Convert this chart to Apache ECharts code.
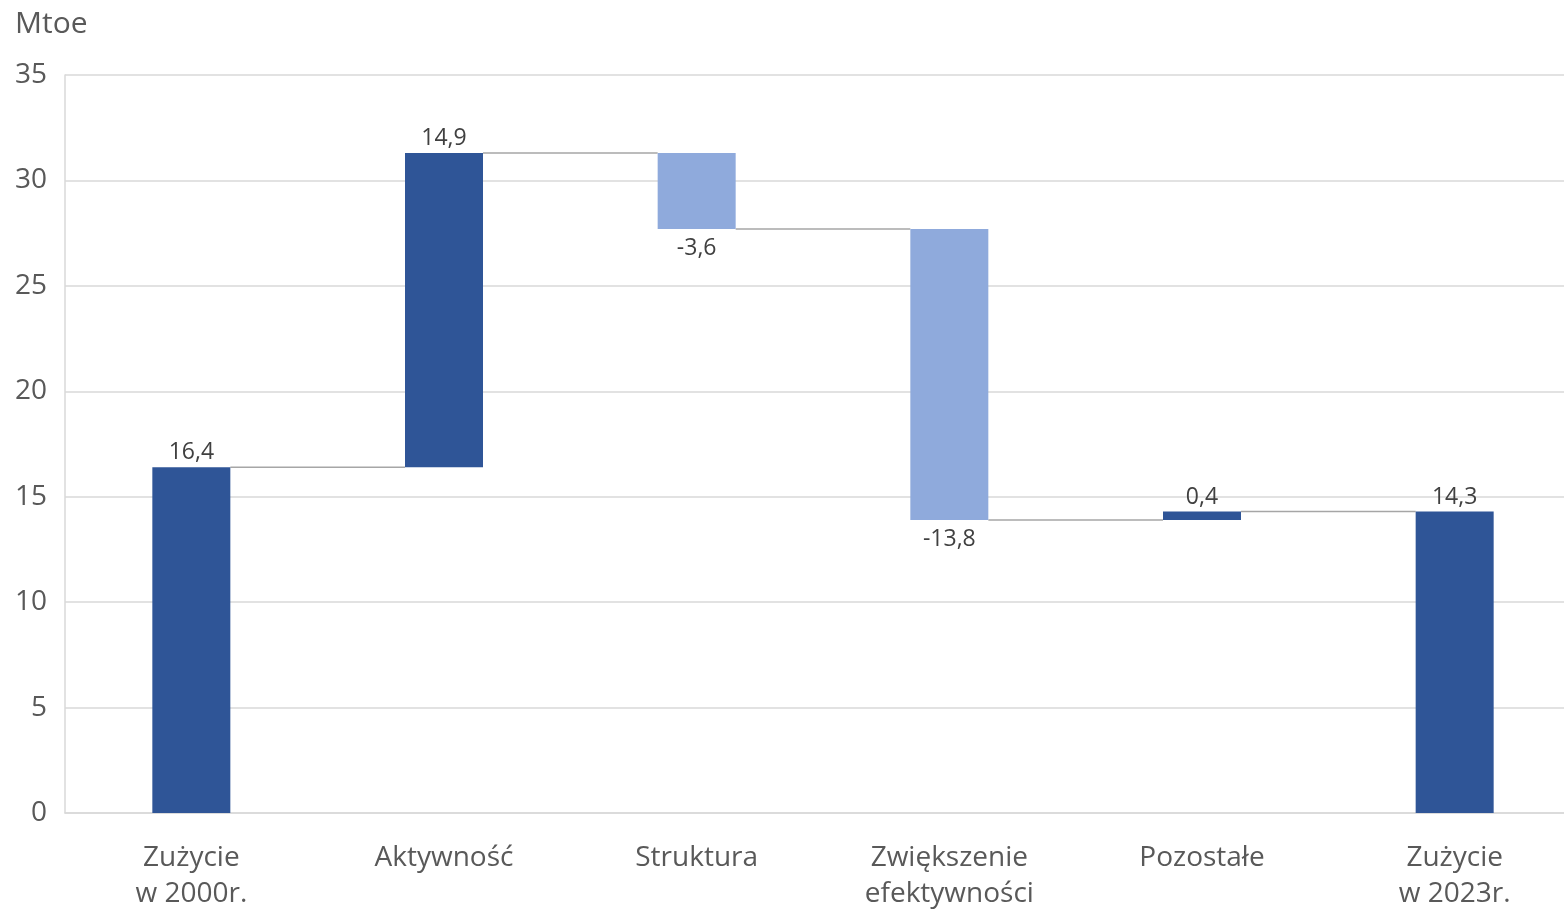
<!DOCTYPE html>
<html>
<head>
<meta charset="utf-8">
<script src="https://cdn.jsdelivr.net/npm/echarts@6/dist/echarts.min.js"></script>
<style>
  html, body { margin: 0; padding: 0; background: #ffffff; }
  #chart { width: 1564px; height: 910px; }
</style>
</head>
<body>
<div id="chart"></div>
<script>
// Decomposition of final energy consumption change, 2000 -> 2023 (Mtoe)
const categories = ['Zużycie\nw 2000r.', 'Aktywność', 'Struktura', 'Zwiększenie\nefektywności', 'Pozostałe', 'Zużycie\nw 2023r.'];
const startValue = 16.4;
const effects = [14.9, -3.6, -13.8, 0.4];
const endValue = 14.3;
const yTicks = [0, 5, 10, 15, 20, 25, 30, 35];

const DARK = '#2F5597';
const LIGHT = '#8FAADC';
const FONT = 'Open Sans';

// floating base, visible height and colour for each bar
const base = [], height = [], signed = [];
let level = startValue;
base.push(0); height.push(startValue); signed.push(startValue);
effects.forEach(v => {
  const lo = v >= 0 ? level : level + v;
  base.push(+lo.toFixed(2));
  height.push(Math.abs(v));
  signed.push(v);
  level += v;
});
base.push(0); height.push(endValue); signed.push(endValue);

// connector levels: top of running total after each bar
const connectors = [];
let run = startValue;
connectors.push([0, run]);
effects.forEach((v, i) => { run += v; connectors.push([i + 1, +run.toFixed(2)]); });

const fmt = v => String(v).replace('.', ',');
const BAR_W = 78;

const chart = echarts.init(document.getElementById('chart'));
chart.setOption({
  animation: false,
  backgroundColor: '#ffffff',
  grid: { left: 65, top: 75, width: 1516, bottom: 97, containLabel: false, outerBoundsMode: 'none' },
  title: {
    text: 'Mtoe', left: 10, top: 4,
    textStyle: { fontFamily: FONT, fontSize: 30, fontWeight: 'normal', color: '#595959' }
  },
  xAxis: {
    type: 'category',
    data: categories,
    axisLine: { show: true, lineStyle: { color: '#D9D9D9', width: 1.5 } },
    axisTick: { show: false },
    axisLabel: { fontFamily: FONT, fontSize: 28, color: '#595959', margin: 27, lineHeight: 36, interval: 0 }
  },
  yAxis: {
    type: 'value',
    min: yTicks[0], max: yTicks[yTicks.length - 1], interval: 5,
    axisLine: { show: true, lineStyle: { color: '#D9D9D9', width: 1.5 } },
    axisTick: { show: false },
    splitLine: { show: true, lineStyle: { color: '#D9D9D9', width: 1.5 } },
    axisLabel: { fontFamily: FONT, fontSize: 28, color: '#595959', margin: 18 }
  },
  series: [
    {
      type: 'bar', stack: 'w', barWidth: BAR_W, silent: true,
      itemStyle: { color: 'transparent' },
      data: base
    },
    {
      type: 'bar', stack: 'w', barWidth: BAR_W,
      data: height.map((h, i) => ({
        value: h,
        itemStyle: { color: signed[i] >= 0 ? DARK : LIGHT },
        label: {
          show: true,
          position: signed[i] >= 0 ? 'top' : 'bottom',
          distance: signed[i] >= 0 ? 3 : 8,
          formatter: () => fmt(signed[i]),
          fontFamily: FONT, fontSize: 23, color: '#404040'
        }
      }))
    },
    {
      type: 'custom',
      silent: true,
      data: connectors,
      renderItem: (params, api) => {
        const i = api.value(0);
        const v = api.value(1);
        const p1 = api.coord([i, v]);
        const p2 = api.coord([i + 1, v]);
        return {
          type: 'line',
          shape: { x1: p1[0] + BAR_W / 2, y1: p1[1], x2: p2[0] - BAR_W / 2, y2: p2[1] },
          style: { stroke: '#A6A6A6', lineWidth: 1.5 }
        };
      }
    }
  ]
});
</script>
</body>
</html>
